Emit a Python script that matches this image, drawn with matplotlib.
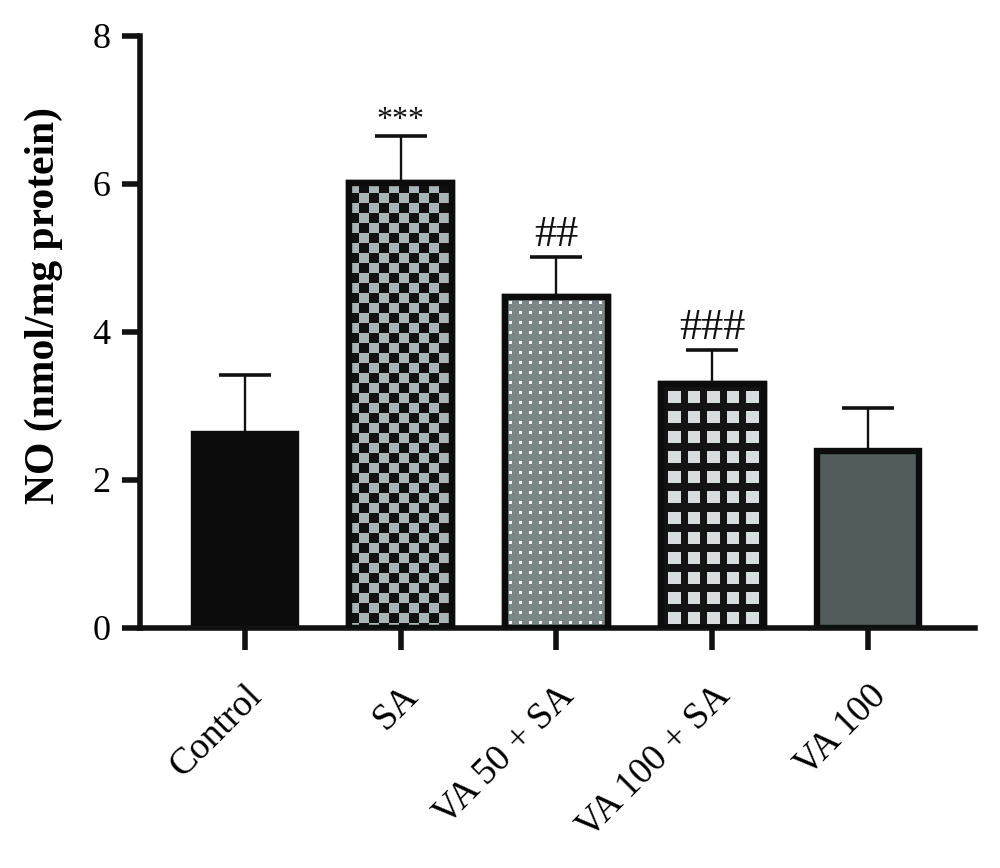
import numpy as np
import matplotlib
matplotlib.use("Agg")
import matplotlib.pyplot as plt

categories = ["Control", "SA", "VA 50 + SA", "VA 100 + SA", "VA 100"]
means = [2.62, 6.01, 4.47, 3.30, 2.39]
errors = [0.80, 0.64, 0.55, 0.46, 0.58]
marks = ["", "***", "##", "###", ""]
yticks = [0, 2, 4, 6, 8]
ylabel = "NO (nmol/mg protein)"

plt.rcParams['font.family'] = ['Liberation Serif', 'DejaVu Serif']

fig = plt.figure(figsize=(10, 8.68), dpi=100)
ax = fig.add_axes([0.14, 1 - 628 / 868, 0.835, (628 - 36) / 868])
x = np.arange(len(categories))
ax.set_xlim(-0.674, 4.687)
ax.set_ylim(0, 8)

EDGE = 4.6
face = ["#0c0c0c", "#0c0c0c", "#7b8686", "#111111", "#525c5c"]
bars = ax.bar(x, means, width=0.66, color=face, edgecolor="#0c0c0c",
              linewidth=EDGE, zorder=2)

ax.errorbar(x, means, yerr=[np.zeros(len(means)), errors], fmt="none",
            ecolor="#111111", elinewidth=1.7, capsize=19, capthick=2.6, zorder=1)

fig.canvas.draw()


def texture(kind, wpx, hpx):
    yy, xx = np.mgrid[0:hpx, 0:wpx]
    img = np.zeros((hpx, wpx, 3))
    if kind == "check":
        c = 10.0
        m = ((xx // c + yy // c) % 2) == 0
        img[:] = np.array([0x10, 0x10, 0x10]) / 255
        img[m] = np.array([0xa9, 0xb4, 0xb6]) / 255
    elif kind == "dots":
        img[:] = np.array([0x7b, 0x86, 0x86]) / 255
        p = 10.0
        dx = (xx % p) - p / 2
        dy = (yy % p) - p / 2
        m = dx ** 2 + dy ** 2 <= 2.6
        img[m] = np.array([0xf2, 0xf2, 0xf2]) / 255
    elif kind == "grid":
        img[:] = np.array([0x14, 0x14, 0x14]) / 255
        p = 19.5
        m = ((xx % p) > 6.5) & ((yy % 20.0) > 7.0)
        img[m] = np.array([0xd8, 0xdc, 0xdc]) / 255
    return img


kinds = [None, "check", "dots", "grid", None]
for b, k in zip(bars, kinds):
    if k is None:
        continue
    x0, x1 = b.get_x(), b.get_x() + b.get_width()
    y0, y1 = b.get_y(), b.get_y() + b.get_height()
    p0 = ax.transData.transform((x0, y0))
    p1 = ax.transData.transform((x1, y1))
    wpx = int(round(p1[0] - p0[0]))
    hpx = int(round(p1[1] - p0[1]))
    im = ax.imshow(texture(k, wpx, hpx), extent=(x0, x1, y0, y1),
                   interpolation="nearest", aspect="auto", zorder=2.5)
    im.set_clip_path(b)
    ax.bar(b.get_x() + b.get_width() / 2, b.get_height(), width=b.get_width(),
           color="none", edgecolor="#0c0c0c", linewidth=EDGE, zorder=3)

ax.set_xlim(-0.674, 4.687)
ax.set_ylim(0, 8)

for xi, m, e, v in zip(x, marks, errors, means):
    if m:
        fs = 23 if m == "***" else 32
        ax.annotate(m, (xi, v + e), xytext=(0, 1), textcoords="offset points",
                    ha="center", va="bottom", fontsize=fs, color="#111111",
                    zorder=4)

for s in ["top", "right"]:
    ax.spines[s].set_visible(False)
for s in ["left", "bottom"]:
    ax.spines[s].set_linewidth(4.0)
    ax.spines[s].set_color("#111111")
ax.spines["left"].set_bounds(0, 8)

ax.set_yticks(yticks)
ax.set_yticklabels([str(t) for t in yticks], fontsize=26)
ax.set_xticks(x)
ax.set_xticklabels(categories, fontsize=27, rotation=45, ha="right",
                   va="top", rotation_mode="anchor")
ax.tick_params(axis="y", direction="out", length=13, width=4.0, pad=8,
               color="#111111")
ax.tick_params(axis="x", direction="out", length=16, width=4.0, pad=20,
               color="#111111")
ax.set_ylabel(ylabel, fontsize=30, fontweight="bold")
ax.yaxis.set_label_coords(-0.092, 0.545)

fig.savefig("out.png", dpi=100, facecolor="white")
